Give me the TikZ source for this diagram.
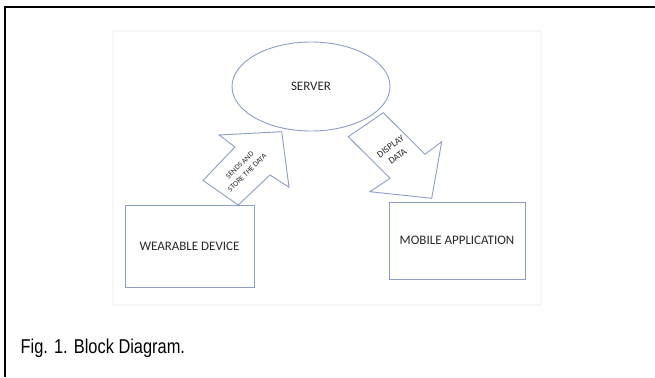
\documentclass[tikz,border=0pt]{standalone}
\usepackage{fontspec}
\setmainfont{Carlito}
\newfontfamily\capfont[FakeStretch=0.82]{Liberation Sans}
\usetikzlibrary{shapes.geometric}
\definecolor{shapeline}{RGB}{140,158,200}
\definecolor{labeltext}{RGB}{40,40,40}
\tikzset{
  blockshape/.style={draw=shapeline, line width=0.9pt, fill=white},
  mainlabel/.style={text=labeltext, font=\fontsize{13}{15}\selectfont, inner sep=0pt},
  arrowlabel/.style={text=labeltext, font=\fontsize{7.5}{10.5}\selectfont, inner sep=0pt, align=center},
}
\begin{document}
\begin{tikzpicture}[x=1pt,y=-1pt]
\useasboundingbox (0,0) rectangle (655,377);
\fill[white] (0,0) rectangle (655,377);
% frame (top and left edges)
\draw[line width=2pt] (5,377) -- (5,7.5) -- (655,7.5);
% faint pasted-image area
\draw[black!3, line width=1.5pt] (113,31) rectangle (541,305);

% server
\node[blockshape, ellipse, minimum width=158pt, minimum height=89pt, mainlabel] (server) at (311,86.5) {SERVER};
% wearable device
\node[blockshape, rectangle, minimum width=129pt, minimum height=82pt, mainlabel] (wear) at (189.5,246) {WEARABLE DEVICE};
% mobile application
\node[blockshape, rectangle, minimum width=136pt, minimum height=77pt, mainlabel] (mob) at (457,240.5) {MOBILE APPLICATION};

% left block arrow (up-right)
\coordinate (la1) at (238.3,205);
\coordinate (la2) at (270,175);
\coordinate (la3) at (289,187.3);
\coordinate (la4) at (281.7,131.7);
\coordinate (la5) at (219,135);
\coordinate (la6) at (235,147);
\coordinate (la7) at (203,180.5);
\draw[blockshape, line join=miter] (la1) -- (la2) -- (la3) -- (la4) -- (la5) -- (la6) -- (la7) -- cycle;
\node[arrowlabel, rotate=44] (sendlbl) at (243.5,169) {SENDS AND\\STORE THE DATA};

% right block arrow (down-right)
\coordinate (ra1) at (383.3,112.7);
\coordinate (ra2) at (425,154.3);
\coordinate (ra3) at (441.7,141.7);
\coordinate (ra4) at (431.7,198.3);
\coordinate (ra5) at (370,191.7);
\coordinate (ra6) at (390,178.3);
\coordinate (ra7) at (348.3,136.7);
\draw[blockshape, line join=miter] (ra1) -- (ra2) -- (ra3) -- (ra4) -- (ra5) -- (ra6) -- (ra7) -- cycle;
\node[arrowlabel, font=\fontsize{9.5}{12}\selectfont, rotate=36] (displbl) at (394,151.5) {DISPLAY\\DATA};

% caption
\node[anchor=base west, inner sep=0pt, font=\capfont\fontsize{20}{24}\selectfont] (cap) at (20.5,353.5) {Fig. 1. Block Diagram.};
\end{tikzpicture}
\end{document}
